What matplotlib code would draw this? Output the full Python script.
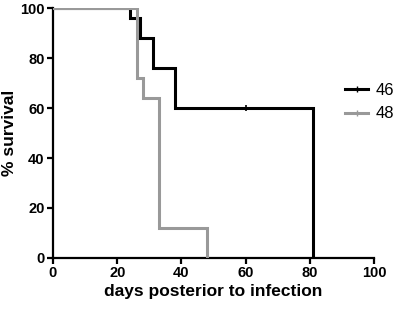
import matplotlib
matplotlib.use('Agg')
import matplotlib.pyplot as plt
from matplotlib.lines import Line2D

plt.rcParams['font.family'] = ['Liberation Sans', 'DejaVu Sans']

# Kaplan-Meier step data (days, % survival)
days_46 = [0, 24, 27, 31, 38, 81]
surv_46 = [100, 96, 88, 76, 60, 0]
censor_46_days = [60]
censor_46_surv = [60]

days_48 = [0, 26, 28, 33, 48]
surv_48 = [100, 72, 64, 12, 0]

end_46 = 81
end_48 = 48

xticks = [0, 20, 40, 60, 80, 100]
yticks = [0, 20, 40, 60, 80, 100]

fig = plt.figure(figsize=(4.03, 3.13), dpi=100)
ax = fig.add_axes([0.1315, 0.176, 0.797, 0.798])

c46 = '#000000'
c48 = '#999999'

ax.step(days_46 + [end_46], surv_46 + [surv_46[-1]], where='post',
        color=c46, lw=2.2, solid_joinstyle='miter', zorder=2)
ax.step(days_48 + [end_48], surv_48 + [surv_48[-1]], where='post',
        color=c48, lw=2.2, solid_joinstyle='miter', zorder=3)
ax.plot(censor_46_days, censor_46_surv, marker='|', ms=5, mew=1.2,
        color=c46, ls='none', zorder=4)

ax.set_xlim(0, 100)
ax.set_ylim(0, 100)
ax.set_xticks(xticks)
ax.set_yticks(yticks)
ax.spines['top'].set_visible(False)
ax.spines['right'].set_visible(False)
for s in ('left', 'bottom'):
    ax.spines[s].set_linewidth(1.6)
ax.tick_params(width=1.6, length=4, labelsize=10.5, pad=2)
for lab in ax.get_xticklabels() + ax.get_yticklabels():
    lab.set_fontweight('bold')

ax.set_xlabel('days posterior to infection', fontsize=12.5,
              fontweight='bold', labelpad=3)
ax.set_ylabel('% survival', fontsize=12.5, fontweight='bold')
ax.yaxis.set_label_coords(-0.112, 0.5)

handles = [Line2D([0], [0], color=c46, lw=2.2, marker='|', ms=4),
           Line2D([0], [0], color=c48, lw=2.2, marker='|', ms=4)]
ax.legend(handles, ['46', '48'], loc='upper left',
          bbox_to_anchor=(0.91, 0.70), frameon=False, fontsize=12,
          handlelength=1.35, handletextpad=0.5, labelspacing=0.5,
          borderaxespad=0, borderpad=0)

fig.savefig('out.png', dpi=100)
